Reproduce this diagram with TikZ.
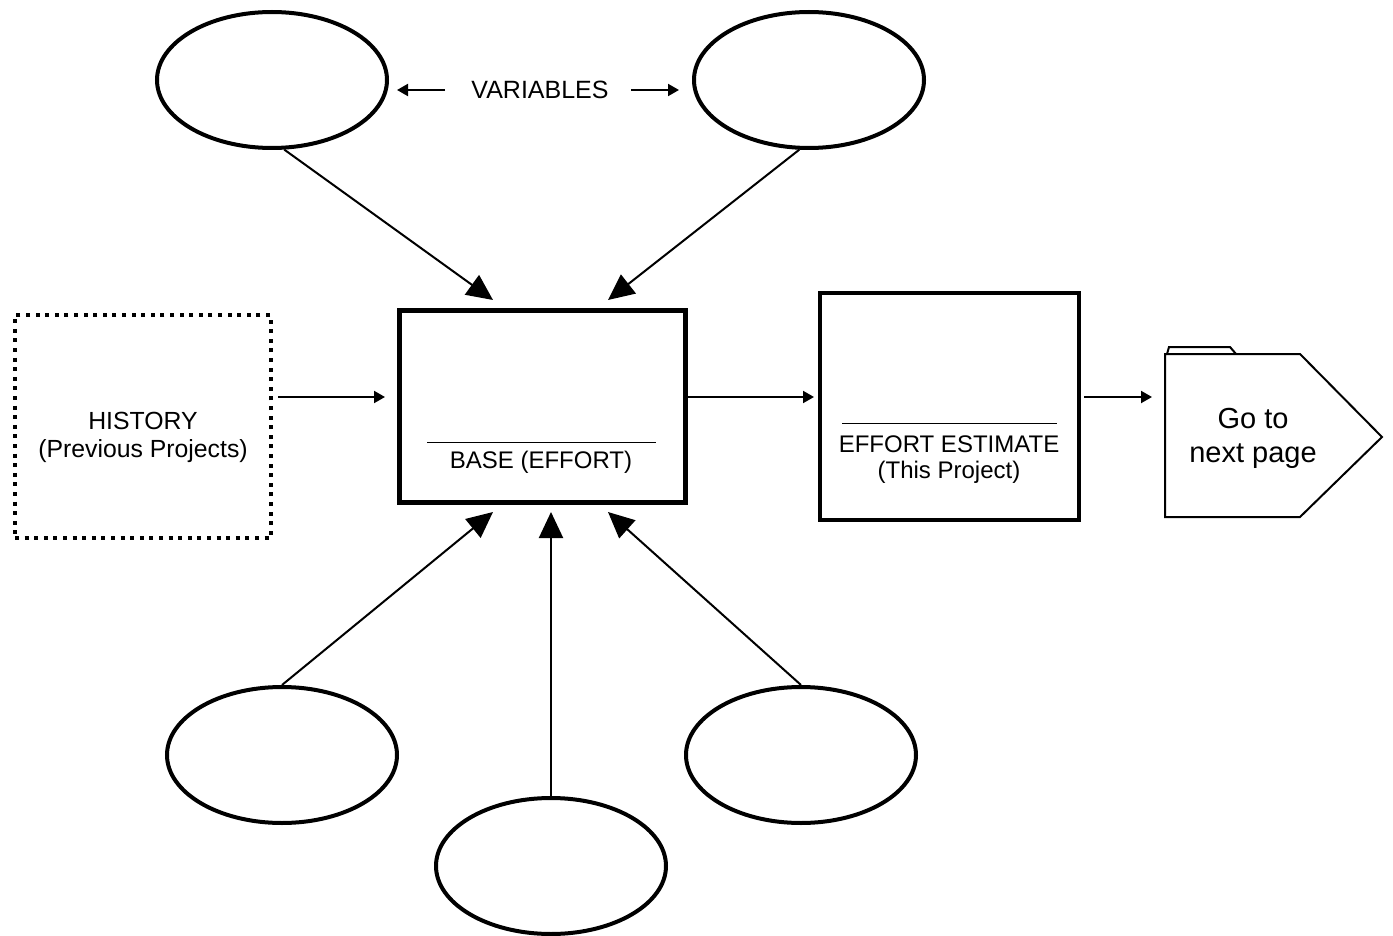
\documentclass[tikz,border=0pt]{standalone}
\usepackage{fontspec}
\setmainfont{Liberation Sans}
\usetikzlibrary{shapes.geometric,arrows.meta}

\begin{document}
\begin{tikzpicture}[x=1pt,y=-1pt,
  oval/.style={ellipse,draw,line width=4pt,minimum width=230pt,minimum height=136pt,inner sep=0pt},
  heavybox/.style={rectangle,draw,line width=5pt,inner sep=0pt},
  dotbox/.style={rectangle,draw,line width=4pt,dash pattern=on 4pt off 5.6pt,inner sep=0pt},
  bigarrow/.style={line width=2pt,-{Triangle[length=26pt,width=24pt]}},
  smallarrow/.style={line width=2pt,-{Triangle[length=11pt,width=12pt]}},
  lbl/.style={inner sep=0pt,anchor=base,font=\fontsize{24}{29}\selectfont},
  biglbl/.style={inner sep=0pt,anchor=base,font=\fontsize{29}{34}\selectfont},
  rulestyle/.style={line width=1pt}]
\useasboundingbox (0,0) rectangle (1393,936);

% variable ovals
\node[oval] (v1) at (272,80) {};
\node[oval] (v2) at (809,80) {};
\node[oval] (v3) at (282,755) {};
\node[oval] (v4) at (551,866) {};
\node[oval] (v5) at (801,755) {};

% main boxes
\node[dotbox,minimum width=256pt,minimum height=223pt] (hist) at (143,426.5) {};
\node[heavybox,minimum width=286.5pt,minimum height=191.5pt] (base) at (542.25,406.25) {};
\node[heavybox,line width=4.5pt,minimum width=259pt,minimum height=227pt] (est) at (949.5,406.5) {};

% off-page connector
\draw[line width=2pt,line join=miter] (1165,517) -- (1165,354) -- (1300,354) -- (1382,437) -- (1300,517) -- cycle;
\draw[line width=2pt,line join=miter] (1167,354) -- (1169,347) -- (1230,347) -- (1236,354);

% labels
\node[lbl,font=\fontsize{25}{30}\selectfont] (vartxt) at (540,99) {VARIABLES};
\node[lbl,font=\fontsize{24.8}{30}\selectfont] (histA) at (143,429) {HISTORY};
\node[lbl,font=\fontsize{24.8}{30}\selectfont] (histB) at (143,457) {(Previous Projects)};
\draw[rulestyle] (427,442) -- (656,442);
\node[lbl] (baseA) at (541,468) {BASE (EFFORT)};
\draw[rulestyle] (842,423) -- (1057,423);
\node[lbl] (estA) at (949,452) {EFFORT ESTIMATE};
\node[lbl] (estB) at (949,478) {(This Project)};
\node[biglbl] (goA) at (1253,428) {Go to};
\node[biglbl] (goB) at (1253,462) {next page};

% free ends of the connectors
\coordinate (va) at (445,90);
\coordinate (vb) at (397,90);
\coordinate (vc) at (631,90);
\coordinate (vd) at (679,90);
\coordinate (t1) at (493,300);
\coordinate (t2) at (608,300);
\coordinate (t3) at (493,512);
\coordinate (t4) at (551,512);
\coordinate (t5) at (608,512);
\coordinate (h1) at (278,397);
\coordinate (h2) at (385,397);
\coordinate (b1) at (688,397);
\coordinate (b2) at (814,397);
\coordinate (e1) at (1084,397);
\coordinate (e2) at (1152,397);

% connectors
\draw[smallarrow] (va) -- (vb);
\draw[smallarrow] (vc) -- (vd);
\draw[bigarrow] (v1.280) -- (t1);
\draw[bigarrow] (v2.262) -- (t2);
\draw[bigarrow] (v3.north) -- (t3);
\draw[bigarrow] (v4.north) -- (t4);
\draw[bigarrow] (v5.north) -- (t5);
\draw[smallarrow] (h1) -- (h2);
\draw[smallarrow] (b1) -- (b2);
\draw[smallarrow] (e1) -- (e2);
\end{tikzpicture}
\end{document}
